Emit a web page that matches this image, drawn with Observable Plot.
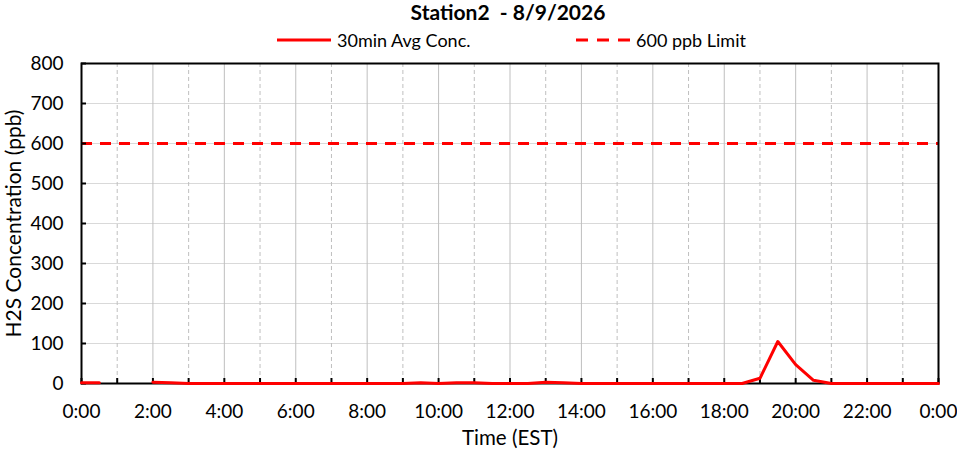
<!DOCTYPE html>
<html>
<head>
<meta charset="utf-8">
<script src="https://cdn.jsdelivr.net/npm/d3@7"></script>
<script src="https://cdn.jsdelivr.net/npm/@observablehq/plot@0.6"></script>
<style>
  body { margin: 0; background: #fff; font-family: Lato, "Open Sans", sans-serif; }
  #wrap { width: 957px; }
  #head { position: relative; width: 957px; height: 55px; }
  #title { position: absolute; left: 0; width: 1016px; top: -1px; text-align: center; font-weight: bold; font-size: 21px; line-height: 25px; color: #000; white-space: pre; }
  .leg { position: absolute; top: 29px; font-size: 18px; line-height: 22px; color: #000; display: flex; align-items: center; }
  .leg svg { margin-right: 6px; }
  #chart svg { display: block; overflow: visible; }
</style>
</head>
<body>
<div id="wrap">
  <div id="head">
    <div id="title"></div>
    <div class="leg" style="left:277px"><svg width="54" height="10"><line x1="0" y1="5" x2="54" y2="5" stroke="#ff0000" stroke-width="3"/></svg><span id="leg1"></span></div>
    <div class="leg" style="left:576px"><svg width="54" height="10"><line x1="0" y1="5" x2="54" y2="5" stroke="#ff0000" stroke-width="3" stroke-dasharray="12,9"/></svg><span id="leg2"></span></div>
  </div>
  <div id="chart"></div>
</div>
<script>
const title = "Station2  - 8/9/2026";
const seriesNames = ["30min Avg Conc.", "600 ppb Limit"];
const limitValue = 600;
const hours = [0,0.5,1,1.5,2,2.5,3,3.5,4,4.5,5,5.5,6,6.5,7,7.5,8,8.5,9,9.5,10,10.5,11,11.5,12,12.5,13,13.5,14,14.5,15,15.5,16,16.5,17,17.5,18,18.5,19,19.5,20,20.5,21,21.5,22,22.5,23,23.5,24];
const conc  = [2,2,null,null,3,2,0,0,0,0,0,0,0,0,0,0,0,0,0,2,0,2,2,0,0,0,3,2,0,0,0,0,0,0,0,0,0,0,13,105,47,8,0,0,0,0,0,0,0];
const yTicks = [0,100,200,300,400,500,600,700,800];
const xLabelTicks = [0,2,4,6,8,10,12,14,16,18,20,22,24];
const xLabels = ["0:00","2:00","4:00","6:00","8:00","10:00","12:00","14:00","16:00","18:00","20:00","22:00","0:00"];
const xMinorTicks = [0,1,2,3,4,5,6,7,8,9,10,11,12,13,14,15,16,17,18,19,20,21,22,23,24];
const evenHours = [2,4,6,8,10,12,14,16,18,20,22];
const oddHours = [1,3,5,7,9,11,13,15,17,19,21,23];
const xTitle = "Time (EST)";
const yTitle = "H2S Concentration (ppb)";

document.getElementById("title").textContent = title;
document.getElementById("leg1").textContent = seriesNames[0];
document.getElementById("leg2").textContent = seriesNames[1];

const data = hours.map((h, i) => ({h, v: conc[i]}));
const fmt = d => xLabels[xLabelTicks.indexOf(d)];

const plot = Plot.plot({
  width: 957,
  height: 398,
  marginLeft: 81,
  marginRight: 19,
  marginTop: 8,
  marginBottom: 70,
  style: {fontFamily: "Lato, 'Open Sans', sans-serif", fontSize: "16px", color: "#000", background: "#fff", overflow: "visible"},
  x: {domain: [0, 24], label: null},
  y: {domain: [0, 800], label: null},
  marks: [
    Plot.ruleY(yTicks, {stroke: "#d9d9d9", strokeWidth: 1}),
    Plot.ruleX(evenHours, {stroke: "#bfbfbf", strokeWidth: 1}),
    Plot.ruleX(oddHours, {stroke: "#bfbfbf", strokeWidth: 1, strokeDasharray: "4,3"}),
    Plot.ruleY([limitValue], {stroke: "#ff0000", strokeWidth: 3, strokeDasharray: "11,8"}),
    Plot.frame({stroke: "#000", strokeWidth: 2}),
    Plot.axisX(xMinorTicks, {anchor: "bottom", tickSize: -5, strokeWidth: 2, text: null, label: null}),
    Plot.axisY(yTicks, {anchor: "left", tickSize: -5, strokeWidth: 2, text: null, label: null}),
    Plot.line(data, {x: "h", y: "v", stroke: "#ff0000", strokeWidth: 3, defined: d => d.v != null}),
    Plot.axisX(xLabelTicks, {anchor: "bottom", tickSize: 0, tickPadding: 21, tickFormat: fmt, fontSize: 19, label: null}),
    Plot.axisY(yTicks, {anchor: "left", tickSize: 0, tickPadding: 18, fontSize: 19, label: null}),
    Plot.text([xTitle], {frameAnchor: "bottom", dy: 61, fontSize: 20.5, text: d => d}),
    Plot.text([yTitle], {frameAnchor: "left", dx: -67, rotate: -90, textAnchor: "middle", fontSize: 21, text: d => d})
  ]
});
document.getElementById("chart").appendChild(plot);
</script>
</body>
</html>
